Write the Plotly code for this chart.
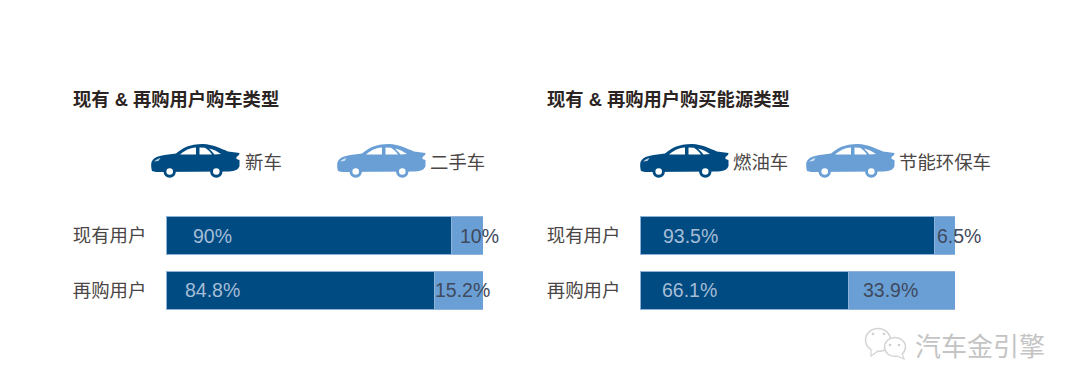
import plotly.graph_objects as go

W, H = 1080, 391
FONT = "Liberation Sans, Noto Sans CJK SC, sans-serif"
CJK = "Noto Sans CJK SC, sans-serif"
DARK = "#004b82"
LIGHT = "#6a9fd6"
TEXT = "#4b4645"

groups = ["现有用户", "再购用户"]
left_title = "现有 & 再购用户购车类型"
left_names = ["新车", "二手车"]
left_a = [90, 84.8]
left_b = [10, 15.2]
left_labels_a = ["90%", "84.8%"]
left_labels_b = ["10%", "15.2%"]

right_title = "现有 & 再购用户购买能源类型"
right_names = ["燃油车", "节能环保车"]
right_a = [93.5, 66.1]
right_b = [6.5, 33.9]
right_labels_a = ["93.5%", "66.1%"]
right_labels_b = ["6.5%", "33.9%"]

watermark = "汽车金引擎"


def px(x):
    return x / W


def py(y):
    return 1 - y / H


fig = go.Figure()
for axis, a, b, names in [("", left_a, left_b, left_names), ("2", right_a, right_b, right_names)]:
    for vals, col, name in [(a, DARK, names[0]), (b, LIGHT, names[1])]:
        fig.add_trace(go.Bar(
            x=vals, y=groups, orientation="h", name=name, width=0.7,
            marker=dict(color=col, line=dict(color="#8fb2d8", width=1)),
            xaxis="x" + axis, yaxis="y" + axis, showlegend=False,
        ))

yaxis_style = dict(
    autorange=False, range=[1.5, -0.5], type="category", showgrid=False, zeroline=False,
    showline=False, ticks="outside", ticklen=15, tickcolor="rgba(0,0,0,0)",
    tickfont=dict(family=CJK, size=18.4, color=TEXT),
    domain=[py(318), py(208)],
)
xaxis_style = dict(range=[0, 100], visible=False, fixedrange=True)

layout_shapes = []


def car(x0, y0, color):
    """Car icon; local coordinates are in pixels from the icon's top-left corner."""
    def t(x, y):
        return f"{px(x0 + x):.5f},{py(y0 + y):.5f}"

    def path(cmds):
        out = []
        for c in cmds:
            if len(c) == 3:
                out.append(f"{c[0]}{t(c[1], c[2])}")
            elif len(c) == 7:
                out.append(f"C{t(c[1], c[2])} {t(c[3], c[4])} {t(c[5], c[6])}")
        return " ".join(out) + " Z"

    body = [
        ("M", 1, 27), ("C", 0, 24, 0, 20, 0.5, 18), ("C", 2, 14.5, 5, 13, 9, 12),
        ("C", 15, 10.5, 20, 10, 25, 9.5), ("C", 31, 4.5, 38, 0, 52, 0),
        ("C", 62, 0.5, 70, 4.5, 77, 7.5), ("L", 88.5, 9), ("L", 88, 11), ("L", 85.5, 13),
        ("L", 85.5, 15), ("L", 88.5, 16), ("L", 88.5, 22), ("C", 87.5, 25.5, 84, 27, 78, 27.5),
        ("L", 5, 28),
    ]
    layout_shapes.append(dict(type="path", path=path(body), xref="paper", yref="paper",
                              fillcolor=color, line=dict(width=0), layer="above"))
    windows = [
        [("M", 29, 10.5), ("L", 45, 10.5), ("L", 45, 3.5), ("C", 38, 4, 33, 7, 29, 10.5)],
        [("M", 48.5, 10.5), ("L", 61, 10.5), ("C", 59, 8, 57, 5.5, 54, 3.8), ("L", 48.5, 3.5)],
        [("M", 63.5, 10.5), ("L", 70, 10), ("C", 67, 8, 63, 5.5, 58, 4.5), ("C", 60, 6.5, 62, 8.5, 63.5, 10.5)],
    ]
    for w in windows:
        layout_shapes.append(dict(type="path", path=path(w), xref="paper", yref="paper",
                                  fillcolor="white", line=dict(width=0), layer="above"))
    lamp = [("M", 3, 17.5), ("C", 5, 15.5, 7, 14.5, 9.5, 14), ("L", 7.5, 17), ("L", 3, 17.5)]
    layout_shapes.append(dict(type="path", path=path(lamp), xref="paper", yref="paper",
                              fillcolor="white", opacity=0.7, line=dict(width=0), layer="above"))
    for cx in (18.7, 65.3):
        for r, col in ((6.2, color), (3.3, "white")):
            layout_shapes.append(dict(
                type="circle", xref="paper", yref="paper",
                x0=px(x0 + cx - r), x1=px(x0 + cx + r), y0=py(y0 + 27.5 + r), y1=py(y0 + 27.5 - r),
                fillcolor=col, line=dict(width=0), layer="above"))


car(151, 144, DARK)
car(337, 144, LIGHT)
car(640, 144, DARK)
car(806, 144, LIGHT)

annotations = []


def text(x, y, s, size=18.4, color=TEXT, family=CJK, anchor="center", **kw):
    annotations.append(dict(x=px(x), y=py(y), xref="paper", yref="paper", text=s, showarrow=False,
                            xanchor=anchor, yanchor="middle",
                            font=dict(family=family, size=size, color=color), **kw))


text(71, 100, f"<b>{left_title}</b>", size=18.3, color="#2b2422", family=FONT, anchor="left")
text(545, 100, f"<b>{right_title}</b>", size=18.3, color="#2b2422", family=FONT, anchor="left")

text(243, 161, left_names[0], anchor="left")
text(428, 161, left_names[1], anchor="left")
text(731, 161, right_names[0], anchor="left")
text(897, 161, right_names[1], anchor="left")

LAB_ON_DARK = "#a6bdd6"
LAB_ON_LIGHT = "#3f4a5c"
row_y = [236, 289.5]
left_a_x, left_b_x = [212.5, 212.5], [479, 462.5]
right_a_x, right_b_x = [690, 689.5], [958.5, 890.5]
for i in range(2):
    text(left_a_x[i], row_y[i], left_labels_a[i], size=19.5, color=LAB_ON_DARK, family=FONT)
    text(left_b_x[i], row_y[i], left_labels_b[i], size=19.5, color=LAB_ON_LIGHT, family=FONT)
    text(right_a_x[i], row_y[i], right_labels_a[i], size=19.5, color=LAB_ON_DARK, family=FONT)
    text(right_b_x[i], row_y[i], right_labels_b[i], size=19.5, color=LAB_ON_LIGHT, family=FONT)

text(980, 344, watermark, size=26, color="#c4c4c4", family=CJK)

# watermark icon: two speech bubbles
for cx, cy, rx, ry in [(878, 340, 12.5, 11.5), (895, 347, 10.5, 9.5)]:
    layout_shapes.append(dict(type="circle", xref="paper", yref="paper",
                              x0=px(cx - rx), x1=px(cx + rx), y0=py(cy + ry), y1=py(cy - ry),
                              fillcolor="white", line=dict(color="#d4d4d4", width=1.5)))
for (x1, y1), (x2, y2), (x3, y3) in [((871, 349), (871, 356), (878, 351)), ((897, 356), (904, 359), (902, 353))]:
    layout_shapes.append(dict(type="path", xref="paper", yref="paper",
                              path=f"M{px(x1):.5f},{py(y1):.5f} L{px(x2):.5f},{py(y2):.5f} L{px(x3):.5f},{py(y3):.5f}",
                              fillcolor="white", line=dict(color="#d4d4d4", width=1.2)))
for cx, cy in [(873, 334), (884, 334), (890, 345), (899, 345)]:
    layout_shapes.append(dict(type="circle", xref="paper", yref="paper",
                              x0=px(cx - 1.3), x1=px(cx + 1.3), y0=py(cy + 1.3), y1=py(cy - 1.3),
                              fillcolor="#cfcfcf", line=dict(width=0)))

fig.update_layout(
    width=W, height=H, margin=dict(l=0, r=0, t=0, b=0), barmode="stack", bargap=0.3,
    paper_bgcolor="white", plot_bgcolor="white",
    xaxis=dict(domain=[px(166), px(483)], anchor="y", **xaxis_style),
    yaxis=dict(anchor="x", **yaxis_style),
    xaxis2=dict(domain=[px(640), px(955)], anchor="y2", **xaxis_style),
    yaxis2=dict(anchor="x2", **yaxis_style),
    shapes=layout_shapes, annotations=annotations,
)

fig.write_html("out.html", config=dict(displayModeBar=False),
               post_script="document.body.style.margin='0';document.body.style.overflow='hidden';")
